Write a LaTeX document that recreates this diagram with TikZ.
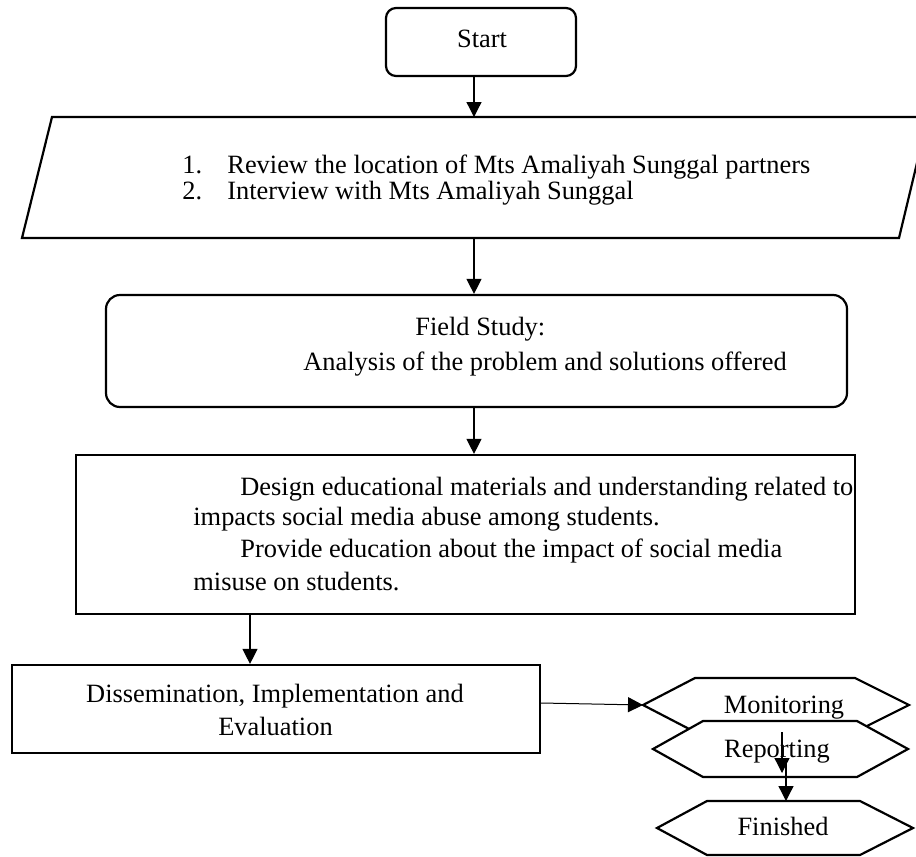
\documentclass[tikz,border=0pt]{standalone}
\usepackage{fontspec}
\setmainfont{Liberation Serif}
\usetikzlibrary{arrows.meta}
\begin{document}
\begin{tikzpicture}[x=0.5pt,y=-0.5pt,
  every node/.style={font=\fontsize{13.2}{15}\selectfont, inner sep=0pt},
  shapeline/.style={draw=black, line width=1.1pt},
  conn/.style={line width=0.65pt, -{Triangle[length=7.5pt,width=7.5pt]}},
  thinconn/.style={line width=0.5pt, -{Triangle[length=7.5pt,width=7.5pt]}},
  txt/.style={anchor=base west},
  ctxt/.style={anchor=base}
]
\useasboundingbox (0,0) rectangle (916,857);

% Start
\node[shapeline, rounded corners=5pt, minimum width=95pt, minimum height=34pt] (start) at (481,42) {};
\node[ctxt] (starttext) at (482,47) {Start};

% Parallelogram
\coordinate (pA) at (52,117);
\coordinate (pB) at (928,117);
\coordinate (pC) at (899,238);
\coordinate (pD) at (22,238);
\draw[shapeline] (pA) -- (pB) -- (pC) -- (pD) -- cycle;
\coordinate (ptop) at (474,117);
\coordinate (pbot) at (474,238);
\node[txt] (n1) at (182,173) {1.};
\node[txt] (l1) at (227,173) {Review the location of Mts Amaliyah Sunggal partners};
\node[txt] (n2) at (182,199) {2.};
\node[txt] (l2) at (227,199) {Interview with Mts Amaliyah Sunggal};

% Field study
\node[shapeline, rounded corners=7pt, minimum width=370.5pt, minimum height=56pt] (field) at (476.5,351) {};
\node[txt] (f1) at (415,335) {Field Study:};
\node[txt] (f2) at (303,370) {Analysis of the problem and solutions offered};

% Design
\node[shapeline, minimum width=389.5pt, minimum height=79.5pt] (design) at (465.5,534.5) {};
\node[txt] (d1) at (240,495) {Design educational materials and understanding related to};
\node[txt] (d2) at (193,525) {impacts social media abuse among students.};
\node[txt] (d3) at (240,557) {Provide education about the impact of social media};
\node[txt] (d4) at (193,590) {misuse on students.};

% Dissemination
\node[shapeline, minimum width=264pt, minimum height=44pt] (dissem) at (276,709) {};
\node[ctxt] (e1) at (275,702) {Dissemination, Implementation and};
\node[ctxt] (e2) at (275.5,735) {Evaluation};
\coordinate (dx) at (250,0);

% Connectors down the main column
\draw[conn] (start.south -| ptop) -- (ptop);
\draw[conn] (pbot) -- (field.north -| pbot);
\draw[conn] (field.south -| pbot) -- (design.north -| pbot);
\draw[conn] (design.south -| dx) -- (dissem.north -| dx);

% Monitoring
\draw[shapeline, fill=white] (643,705) coordinate (monL) -- (695,678) -- (855,678) -- (909,705) -- (855,732) -- (695,732) -- cycle;
\node[ctxt] (mon) at (784,713) {Monitoring};
\coordinate (monB) at (782,732);

% Reporting
\draw[shapeline, fill=white] (653,749) -- (703,721) -- (857,721) -- (908,749) -- (857,777) -- (703,777) -- cycle;
\node[ctxt] (rep) at (777,757) {Reporting};
\coordinate (repT) at (782,773);
\coordinate (repS) at (786,763);

% Finished
\draw[shapeline, fill=white] (657,828) -- (707,801) -- (860,801) -- (913,828) -- (860,855) -- (707,855) -- cycle;
\node[ctxt] (fin) at (783,835) {Finished};
\coordinate (finT) at (786,801);

\draw[thinconn] ([yshift=3pt]dissem.east) -- (monL);
\draw[conn] (monB) -- (repT);
\draw[conn] (repS) -- (finT);
\end{tikzpicture}
\end{document}
